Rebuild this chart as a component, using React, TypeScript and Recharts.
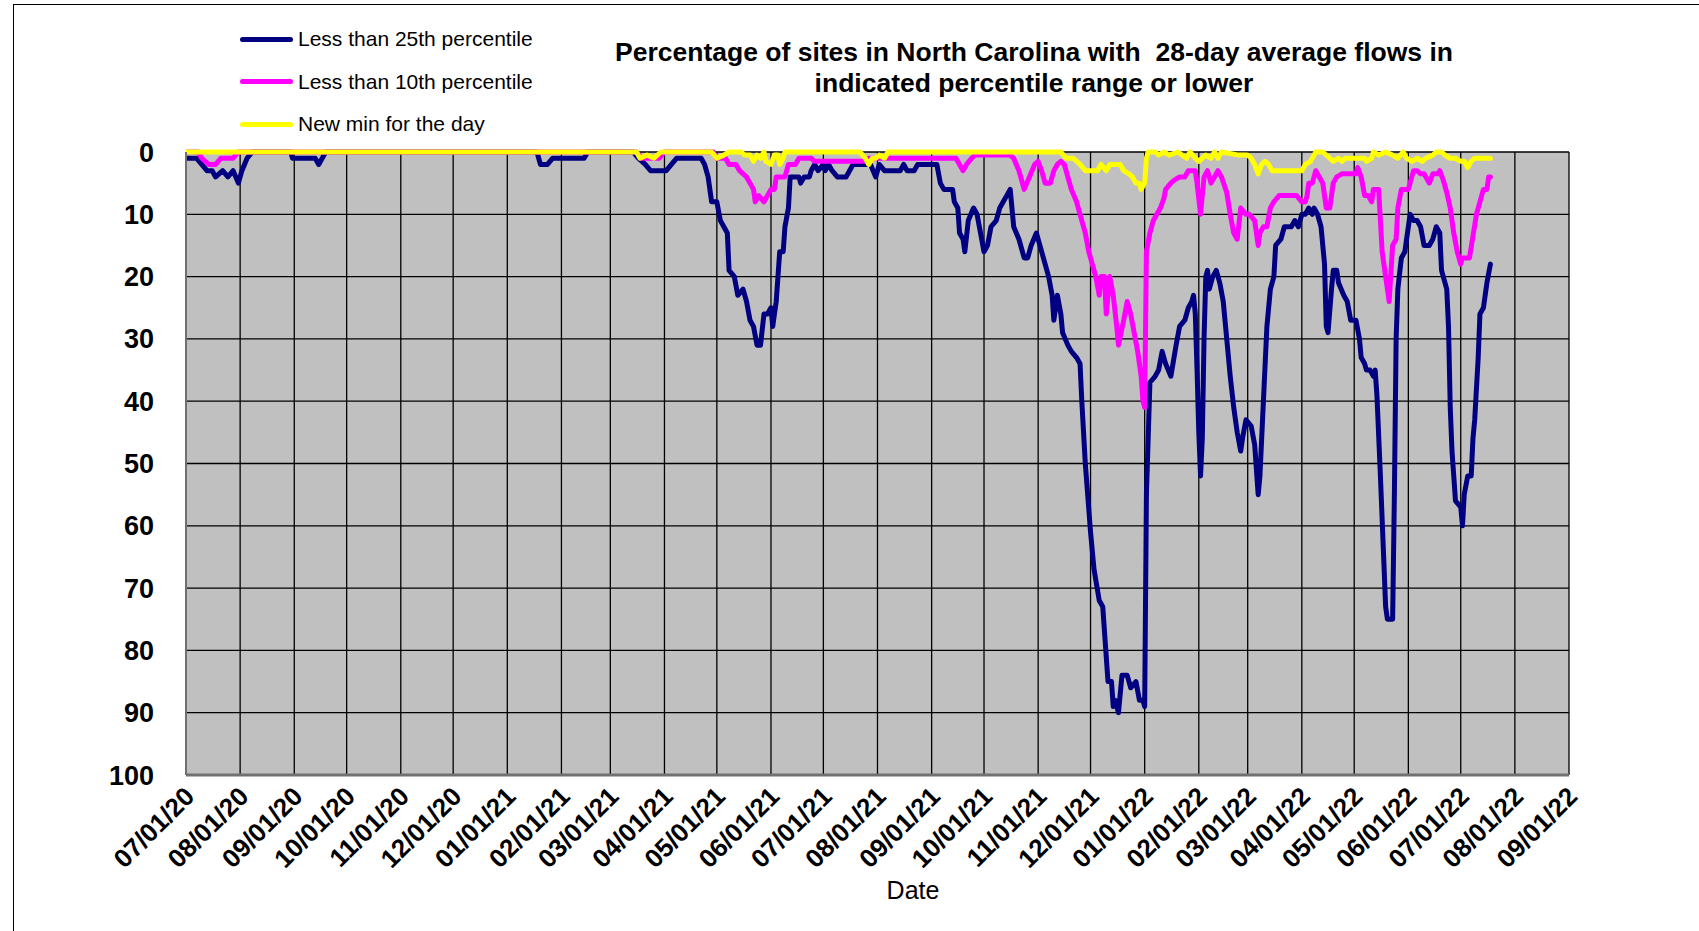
import React from 'react';
import { LineChart, Line, XAxis, YAxis, CartesianGrid } from 'recharts';

const FONT = "'Liberation Sans', Arial, Helvetica, sans-serif";

const title = [
  'Percentage of sites in North Carolina with  28-day average flows in',
  'indicated percentile range or lower',
];
const xAxisTitle = 'Date';

const seriesNames = ['Less than 25th percentile', 'Less than 10th percentile', 'New min for the day'];
const seriesColors = ['#000080', '#FF00FF', '#FFFF00'];

const monthTicks = [
  '2020-07-01', '2020-08-01', '2020-09-01', '2020-10-01', '2020-11-01', '2020-12-01',
  '2021-01-01', '2021-02-01', '2021-03-01', '2021-04-01', '2021-05-01', '2021-06-01',
  '2021-07-01', '2021-08-01', '2021-09-01', '2021-10-01', '2021-11-01', '2021-12-01',
  '2022-01-01', '2022-02-01', '2022-03-01', '2022-04-01', '2022-05-01', '2022-06-01',
  '2022-07-01', '2022-08-01', '2022-09-01',
];
const monthTickLabels = [
  '07/01/20', '08/01/20', '09/01/20', '10/01/20', '11/01/20', '12/01/20',
  '01/01/21', '02/01/21', '03/01/21', '04/01/21', '05/01/21', '06/01/21',
  '07/01/21', '08/01/21', '09/01/21', '10/01/21', '11/01/21', '12/01/21',
  '01/01/22', '02/01/22', '03/01/22', '04/01/22', '05/01/22', '06/01/22',
  '07/01/22', '08/01/22', '09/01/22',
];
const yTicks = [0, 10, 20, 30, 40, 50, 60, 70, 80, 90, 100];

// Less than 25th percentile
const lt25: [string, number][] = [
  ['2020-07-01', 1], ['2020-07-07', 1], ['2020-07-10', 2], ['2020-07-13', 3], ['2020-07-16', 3],
  ['2020-07-18', 4], ['2020-07-22', 3], ['2020-07-25', 4], ['2020-07-28', 3], ['2020-07-31', 5],
  ['2020-08-02', 3], ['2020-08-05', 1], ['2020-08-08', 0], ['2020-08-30', 0], ['2020-08-31', 1],
  ['2020-09-13', 1], ['2020-09-15', 2], ['2020-09-17', 1], ['2020-09-19', 0], ['2021-01-18', 0],
  ['2021-01-20', 2], ['2021-01-24', 2], ['2021-01-27', 1], ['2021-02-14', 1], ['2021-02-16', 0],
  ['2021-03-14', 0], ['2021-03-17', 1], ['2021-03-21', 2], ['2021-03-24', 3], ['2021-04-02', 3],
  ['2021-04-05', 2], ['2021-04-08', 1], ['2021-04-22', 1], ['2021-04-24', 2], ['2021-04-26', 4],
  ['2021-04-28', 8], ['2021-05-01', 8], ['2021-05-03', 11], ['2021-05-05', 12], ['2021-05-07', 13],
  ['2021-05-08', 19], ['2021-05-11', 20], ['2021-05-13', 23], ['2021-05-16', 22], ['2021-05-18', 24],
  ['2021-05-20', 27], ['2021-05-22', 28], ['2021-05-24', 31], ['2021-05-26', 31], ['2021-05-28', 26],
  ['2021-05-30', 26], ['2021-06-01', 25], ['2021-06-02', 28], ['2021-06-04', 24], ['2021-06-06', 16],
  ['2021-06-08', 16], ['2021-06-09', 12], ['2021-06-11', 9], ['2021-06-12', 4], ['2021-06-17', 4],
  ['2021-06-18', 5], ['2021-06-20', 4], ['2021-06-23', 4], ['2021-06-24', 3], ['2021-06-26', 2],
  ['2021-06-28', 3], ['2021-07-01', 2], ['2021-07-02', 3], ['2021-07-04', 2], ['2021-07-06', 3],
  ['2021-07-09', 4], ['2021-07-14', 4], ['2021-07-16', 3], ['2021-07-18', 2], ['2021-07-28', 2],
  ['2021-07-31', 4], ['2021-08-02', 2], ['2021-08-05', 3], ['2021-08-14', 3], ['2021-08-16', 2],
  ['2021-08-18', 3], ['2021-08-22', 3], ['2021-08-24', 2], ['2021-09-04', 2], ['2021-09-06', 5],
  ['2021-09-08', 6], ['2021-09-13', 6], ['2021-09-14', 8], ['2021-09-16', 9], ['2021-09-17', 13],
  ['2021-09-19', 14], ['2021-09-20', 16], ['2021-09-22', 11], ['2021-09-25', 9], ['2021-09-27', 10],
  ['2021-09-29', 13], ['2021-10-01', 16], ['2021-10-03', 15], ['2021-10-05', 12], ['2021-10-08', 11],
  ['2021-10-10', 9], ['2021-10-12', 8], ['2021-10-14', 7], ['2021-10-16', 6], ['2021-10-18', 12],
  ['2021-10-21', 14], ['2021-10-24', 17], ['2021-10-26', 17], ['2021-10-28', 15], ['2021-10-31', 13],
  ['2021-11-03', 16], ['2021-11-05', 18], ['2021-11-07', 20], ['2021-11-09', 23], ['2021-11-10', 27],
  ['2021-11-12', 23], ['2021-11-14', 26], ['2021-11-15', 29], ['2021-11-18', 31], ['2021-11-20', 32],
  ['2021-11-23', 33], ['2021-11-25', 34], ['2021-11-26', 40], ['2021-11-28', 50], ['2021-12-01', 61],
  ['2021-12-03', 67], ['2021-12-06', 72], ['2021-12-08', 73], ['2021-12-09', 77], ['2021-12-11', 85],
  ['2021-12-13', 85], ['2021-12-14', 89], ['2021-12-15', 88], ['2021-12-17', 90], ['2021-12-19', 84],
  ['2021-12-22', 84], ['2021-12-24', 86], ['2021-12-27', 85], ['2021-12-29', 88], ['2021-12-31', 88],
  ['2022-01-01', 89], ['2022-01-02', 55], ['2022-01-04', 37], ['2022-01-07', 36], ['2022-01-09', 35],
  ['2022-01-11', 32], ['2022-01-13', 34], ['2022-01-16', 36], ['2022-01-19', 31], ['2022-01-21', 28],
  ['2022-01-24', 27], ['2022-01-26', 25], ['2022-01-28', 24], ['2022-01-29', 23], ['2022-01-30', 26],
  ['2022-01-31', 35], ['2022-02-01', 45], ['2022-02-02', 52], ['2022-02-03', 46], ['2022-02-04', 30],
  ['2022-02-05', 20], ['2022-02-06', 19], ['2022-02-07', 22], ['2022-02-09', 20], ['2022-02-11', 19],
  ['2022-02-13', 21], ['2022-02-15', 24], ['2022-02-17', 30], ['2022-02-19', 36], ['2022-02-21', 41],
  ['2022-02-23', 45], ['2022-02-25', 48], ['2022-02-26', 46], ['2022-02-28', 43], ['2022-03-03', 44],
  ['2022-03-05', 47], ['2022-03-07', 55], ['2022-03-08', 52], ['2022-03-09', 46], ['2022-03-10', 40],
  ['2022-03-12', 28], ['2022-03-14', 22], ['2022-03-16', 20], ['2022-03-17', 15], ['2022-03-20', 14],
  ['2022-03-22', 12], ['2022-03-26', 12], ['2022-03-28', 11], ['2022-03-30', 12], ['2022-04-01', 10],
  ['2022-04-03', 10], ['2022-04-05', 9], ['2022-04-07', 10], ['2022-04-08', 9], ['2022-04-10', 10],
  ['2022-04-12', 12], ['2022-04-14', 18], ['2022-04-15', 28], ['2022-04-16', 29], ['2022-04-18', 22],
  ['2022-04-19', 19], ['2022-04-21', 19], ['2022-04-22', 21], ['2022-04-25', 23], ['2022-04-27', 24],
  ['2022-04-29', 27], ['2022-05-02', 27], ['2022-05-04', 30], ['2022-05-05', 33], ['2022-05-07', 34],
  ['2022-05-08', 35], ['2022-05-10', 35], ['2022-05-12', 36], ['2022-05-13', 35], ['2022-05-14', 39],
  ['2022-05-16', 52], ['2022-05-18', 66], ['2022-05-19', 73], ['2022-05-20', 75], ['2022-05-23', 75],
  ['2022-05-24', 55], ['2022-05-25', 30], ['2022-05-26', 22], ['2022-05-28', 17], ['2022-05-30', 16],
  ['2022-05-31', 14], ['2022-06-02', 10], ['2022-06-04', 11], ['2022-06-06', 11], ['2022-06-08', 12],
  ['2022-06-10', 15], ['2022-06-13', 15], ['2022-06-15', 14], ['2022-06-17', 12], ['2022-06-19', 13],
  ['2022-06-20', 19], ['2022-06-23', 22], ['2022-06-24', 28], ['2022-06-25', 41], ['2022-06-26', 48],
  ['2022-06-28', 56], ['2022-07-01', 57], ['2022-07-02', 60], ['2022-07-03', 55], ['2022-07-05', 52],
  ['2022-07-07', 52], ['2022-07-08', 46], ['2022-07-09', 43], ['2022-07-11', 33], ['2022-07-12', 26],
  ['2022-07-14', 25], ['2022-07-16', 21], ['2022-07-18', 18],
];

// Less than 10th percentile
const lt10: [string, number][] = [
  ['2020-07-01', 0], ['2020-07-08', 0], ['2020-07-10', 1], ['2020-07-14', 2], ['2020-07-18', 2],
  ['2020-07-21', 1], ['2020-07-28', 1], ['2020-07-31', 0], ['2021-03-16', 0], ['2021-03-19', 1],
  ['2021-03-29', 1], ['2021-04-01', 0], ['2021-04-29', 0], ['2021-05-01', 1], ['2021-05-06', 1],
  ['2021-05-08', 2], ['2021-05-12', 2], ['2021-05-14', 3], ['2021-05-18', 4], ['2021-05-20', 5],
  ['2021-05-22', 6], ['2021-05-23', 8], ['2021-05-25', 7], ['2021-05-28', 8], ['2021-05-30', 7],
  ['2021-06-01', 6], ['2021-06-03', 6], ['2021-06-04', 4], ['2021-06-09', 4], ['2021-06-11', 2],
  ['2021-06-15', 2], ['2021-06-17', 1], ['2021-06-24', 1], ['2021-06-26', 1.5], ['2021-07-25', 1.5],
  ['2021-07-27', 1], ['2021-09-15', 1], ['2021-09-17', 2], ['2021-09-19', 3], ['2021-09-21', 2],
  ['2021-09-24', 1], ['2021-09-26', 0.5], ['2021-10-16', 0.5], ['2021-10-18', 1], ['2021-10-21', 3],
  ['2021-10-24', 6], ['2021-10-27', 4], ['2021-10-30', 2], ['2021-11-01', 1.5], ['2021-11-03', 3],
  ['2021-11-05', 5], ['2021-11-08', 5], ['2021-11-10', 3], ['2021-11-12', 2], ['2021-11-14', 1.5],
  ['2021-11-16', 2], ['2021-11-18', 4], ['2021-11-20', 6], ['2021-11-23', 8], ['2021-11-25', 10],
  ['2021-11-28', 13], ['2021-11-30', 16], ['2021-12-02', 18], ['2021-12-04', 20], ['2021-12-06', 23],
  ['2021-12-07', 20], ['2021-12-09', 20], ['2021-12-10', 26], ['2021-12-12', 20], ['2021-12-14', 23],
  ['2021-12-16', 28], ['2021-12-17', 31], ['2021-12-20', 27], ['2021-12-22', 24], ['2021-12-24', 26],
  ['2021-12-26', 29], ['2021-12-28', 32], ['2021-12-30', 36], ['2021-12-31', 40], ['2022-01-01', 41],
  ['2022-01-02', 16], ['2022-01-04', 13], ['2022-01-06', 11], ['2022-01-08', 10], ['2022-01-10', 9],
  ['2022-01-12', 7.5], ['2022-01-13', 6], ['2022-01-16', 5], ['2022-01-18', 4.5], ['2022-01-21', 4],
  ['2022-01-24', 4], ['2022-01-26', 3], ['2022-01-30', 3], ['2022-01-31', 5], ['2022-02-02', 10],
  ['2022-02-04', 4], ['2022-02-06', 3], ['2022-02-08', 5], ['2022-02-10', 4], ['2022-02-12', 3],
  ['2022-02-14', 4], ['2022-02-17', 6.5], ['2022-02-19', 10], ['2022-02-21', 13], ['2022-02-23', 14],
  ['2022-02-25', 9], ['2022-02-28', 10], ['2022-03-02', 10], ['2022-03-05', 11], ['2022-03-07', 15],
  ['2022-03-08', 13], ['2022-03-10', 12], ['2022-03-12', 12], ['2022-03-14', 9], ['2022-03-16', 8],
  ['2022-03-19', 7], ['2022-03-29', 7], ['2022-04-01', 8], ['2022-04-03', 8], ['2022-04-04', 7],
  ['2022-04-05', 5], ['2022-04-07', 5], ['2022-04-09', 3], ['2022-04-11', 4], ['2022-04-13', 5],
  ['2022-04-15', 9], ['2022-04-17', 9], ['2022-04-19', 5], ['2022-04-21', 4], ['2022-04-24', 3.5],
  ['2022-05-02', 3.5], ['2022-05-03', 2.5], ['2022-05-05', 4], ['2022-05-07', 7], ['2022-05-09', 7],
  ['2022-05-11', 8], ['2022-05-12', 6], ['2022-05-15', 6], ['2022-05-17', 16], ['2022-05-19', 20],
  ['2022-05-21', 24], ['2022-05-23', 15], ['2022-05-25', 14], ['2022-05-26', 9], ['2022-05-28', 6],
  ['2022-06-01', 6], ['2022-06-02', 5], ['2022-06-04', 3], ['2022-06-06', 3], ['2022-06-08', 3.5],
  ['2022-06-10', 3.5], ['2022-06-13', 5], ['2022-06-15', 3.5], ['2022-06-18', 3.5], ['2022-06-19', 3],
  ['2022-06-21', 4.5], ['2022-06-23', 6.5], ['2022-06-25', 9], ['2022-06-27', 13], ['2022-06-29', 16],
  ['2022-07-01', 18], ['2022-07-02', 17], ['2022-07-06', 17], ['2022-07-08', 13.5], ['2022-07-10', 10],
  ['2022-07-12', 8], ['2022-07-14', 6], ['2022-07-16', 6], ['2022-07-17', 4], ['2022-07-18', 4],
];

// New min for the day
const newMin: [string, number][] = [
  ['2020-07-01', 0], ['2021-03-16', 0], ['2021-03-18', 1], ['2021-03-22', 0.5], ['2021-03-26', 1],
  ['2021-03-30', 0], ['2021-04-28', 0], ['2021-05-01', 1], ['2021-05-05', 0.5], ['2021-05-08', 0],
  ['2021-05-15', 0], ['2021-05-17', 0.5], ['2021-05-20', 0.5], ['2021-05-22', 1.5], ['2021-05-24', 0.5],
  ['2021-05-26', 1], ['2021-05-28', 0], ['2021-05-29', 1.5], ['2021-06-01', 2], ['2021-06-03', 0.5],
  ['2021-06-05', 0.5], ['2021-06-06', 2], ['2021-06-08', 1], ['2021-06-09', 0], ['2021-07-22', 0],
  ['2021-07-25', 1], ['2021-07-27', 2], ['2021-07-29', 1], ['2021-07-31', 1], ['2021-08-02', 0.5],
  ['2021-08-05', 1], ['2021-08-07', 0], ['2021-11-14', 0], ['2021-11-17', 1], ['2021-11-21', 1],
  ['2021-11-25', 2], ['2021-11-28', 3], ['2021-12-05', 3], ['2021-12-07', 2], ['2021-12-10', 3],
  ['2021-12-12', 2], ['2021-12-18', 2], ['2021-12-20', 3], ['2021-12-23', 3.5], ['2021-12-25', 4],
  ['2021-12-27', 5], ['2021-12-29', 5], ['2021-12-30', 6], ['2022-01-01', 5], ['2022-01-02', 1],
  ['2022-01-03', 0], ['2022-01-07', 0], ['2022-01-09', 0.5], ['2022-01-12', 0], ['2022-01-15', 0.5],
  ['2022-01-20', 0], ['2022-01-25', 1], ['2022-01-27', 0], ['2022-01-30', 1], ['2022-02-01', 1.5],
  ['2022-02-03', 1], ['2022-02-05', 0.5], ['2022-02-08', 1], ['2022-02-10', 0], ['2022-02-12', 1],
  ['2022-02-14', 0], ['2022-02-24', 0.5], ['2022-03-01', 0.5], ['2022-03-03', 1], ['2022-03-05', 2],
  ['2022-03-07', 3.5], ['2022-03-09', 2], ['2022-03-11', 1.5], ['2022-03-13', 2], ['2022-03-15', 3],
  ['2022-04-01', 3], ['2022-04-03', 2], ['2022-04-06', 1.5], ['2022-04-08', 0.5], ['2022-04-09', 0],
  ['2022-04-13', 0], ['2022-04-15', 0.5], ['2022-04-17', 1], ['2022-04-19', 1.5], ['2022-04-22', 1],
  ['2022-04-24', 1.5], ['2022-04-26', 1], ['2022-05-07', 1], ['2022-05-08', 1.5], ['2022-05-11', 1],
  ['2022-05-12', 0], ['2022-05-15', 0.5], ['2022-05-19', 0], ['2022-05-23', 0.5], ['2022-05-26', 1],
  ['2022-05-29', 0], ['2022-05-31', 1], ['2022-06-03', 1.5], ['2022-06-06', 1], ['2022-06-09', 1.5],
  ['2022-06-11', 1], ['2022-06-15', 0.5], ['2022-06-17', 0], ['2022-06-20', 0], ['2022-06-22', 0.5],
  ['2022-06-25', 1], ['2022-06-28', 1], ['2022-07-01', 1.5], ['2022-07-03', 1.5], ['2022-07-05', 2.5],
  ['2022-07-07', 1.5], ['2022-07-09', 1], ['2022-07-18', 1],
];

const toT = (s: string) => Date.UTC(+s.slice(0, 4), +s.slice(5, 7) - 1, +s.slice(8, 10));
const toRows = (arr: [string, number][]) => arr.map(([d, v]) => ({ t: toT(d), v }));

const seriesData = [toRows(lt25), toRows(lt10), toRows(newMin)];
const tickValues = monthTicks.map(toT);
const labelByT: Record<number, string> = {};
tickValues.forEach((t, i) => { labelByT[t] = monthTickLabels[i]; });

const XTick = (props: any) => {
  const { x, y, payload } = props;
  return (
    <g transform={`translate(${x + 10},${y + 23})`}>
      <text x={0} y={0} textAnchor="end" transform="rotate(-45)" fontFamily={FONT}
        fontWeight="bold" fontSize={26} fill="#000">
        {labelByT[payload.value]}
      </text>
    </g>
  );
};

export default function App() {
  return (
    <div style={{ position: 'absolute', left: 0, top: 0, width: 1699, height: 931, background: '#fff', overflow: 'hidden', fontFamily: FONT }}>
      <div style={{ position: 'absolute', left: 13, top: 4, width: 1700, height: 940, borderLeft: '1px solid #000', borderTop: '1px solid #000' }} />
      <div style={{ position: 'absolute', left: 0, top: 0 }}>
        <LineChart width={1699} height={931} margin={{ top: 152, right: 130, bottom: 0, left: 0 }}>
          <CartesianGrid stroke="#000" strokeWidth={1.3} fill="#C0C0C0" fillOpacity={1} />
          <XAxis dataKey="t" type="number" domain={[tickValues[0], tickValues[tickValues.length - 1]]}
            ticks={tickValues} interval={0} allowDataOverflow height={156}
            tick={<XTick />} tickLine={false} tickSize={0} tickMargin={0}
            axisLine={{ stroke: '#707070', strokeWidth: 3 }} />
          <YAxis type="number" domain={[0, 100]} reversed ticks={yTicks} interval={0} width={186}
            tickLine={false} tickSize={30} tickMargin={2}
            tick={{ fill: '#000', fontFamily: FONT, fontWeight: 'bold', fontSize: 27 }}
            axisLine={{ stroke: '#707070', strokeWidth: 2 }} />
          <YAxis yAxisId="r" orientation="right" width={0} domain={[0, 100]} tick={false} tickLine={false}
            axisLine={{ stroke: '#8a8a8a', strokeWidth: 3 }} />
          {seriesData.map((d, i) => (
            <Line key={seriesNames[i]} data={d} dataKey="v" name={seriesNames[i]} type="linear"
              stroke={seriesColors[i]} strokeWidth={5} dot={false} activeDot={false}
              isAnimationActive={false} strokeLinejoin="round" strokeLinecap="round" />
          ))}
        </LineChart>
      </div>
      {seriesNames.map((n, i) => (
        <div key={n} style={{ position: 'absolute', left: 240, top: 39 + i * 42.5 - 14, height: 28, display: 'flex', alignItems: 'center' }}>
          <div style={{ width: 53, height: 5, background: seriesColors[i], borderRadius: 2.5 }} />
          <span style={{ marginLeft: 5, fontSize: 21, color: '#000', whiteSpace: 'nowrap' }}>{n}</span>
        </div>
      ))}
      <div style={{ position: 'absolute', left: 534, width: 1000, top: 37, textAlign: 'center', fontWeight: 'bold', fontSize: 26.5, lineHeight: '31px', color: '#000', whiteSpace: 'pre' }}>
        {title[0]}
        <br />
        {title[1]}
      </div>
      <div style={{ position: 'absolute', left: 813, width: 200, top: 876, textAlign: 'center', fontSize: 25, color: '#000' }}>
        {xAxisTitle}
      </div>
    </div>
  );
}
